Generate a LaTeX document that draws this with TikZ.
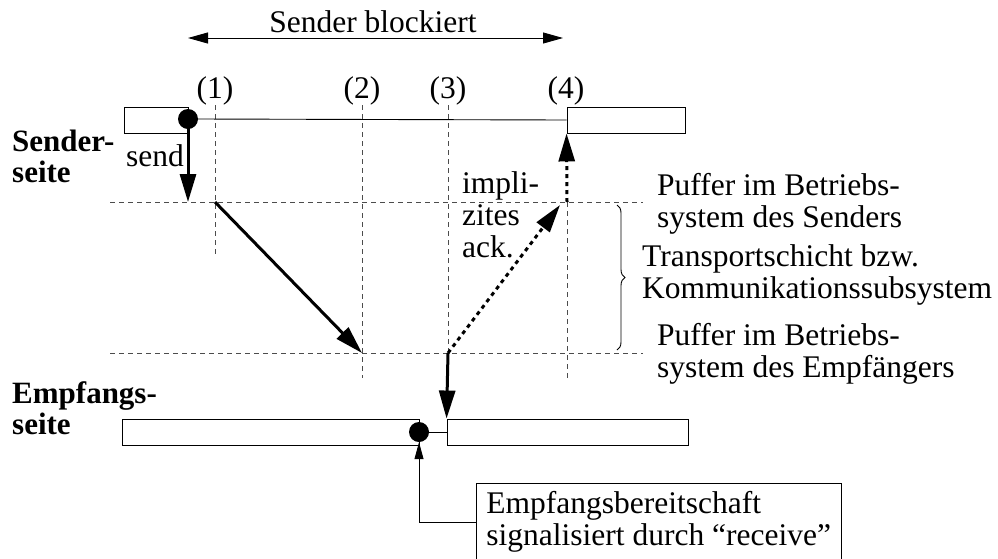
\documentclass[tikz,border=0pt]{standalone}
\usepackage{fontspec}
\setmainfont{Liberation Serif}
\usetikzlibrary{arrows.meta,decorations.pathreplacing}

\begin{document}
\begin{tikzpicture}[x=1pt, y=-1pt,
    txt/.style={font=\fontsize{31.5}{32}\selectfont, inner sep=0pt, align=left},
    side/.style={txt, font=\fontsize{31}{31}\selectfont\bfseries},
    bar/.style={draw, line width=0.9pt, minimum height=26pt, inner sep=0pt},
    dot/.style={circle, fill, inner sep=0pt, minimum size=20pt},
    guide/.style={dash pattern=on 5pt off 4pt, line width=0.7pt, black!70},
    fine/.style={line width=0.9pt},
    msg/.style={line width=3pt, -{Triangle[length=28pt,width=16pt]}},
    ack/.style={msg, dash pattern=on 4pt off 4pt},
    callout/.style={fine, -{Triangle[length=17pt,width=9pt]}}]
    \useasboundingbox (0,0) rectangle (998,558);

    \coordinate (bl) at (188,38);
    \coordinate (br) at (563,38);
    \draw[fine, {Triangle[length=20pt,width=11pt]}-{Triangle[length=20pt,width=11pt]}] (bl) -- (br);
    \node[txt, anchor=base] (blk) at (373,32) {Sender blockiert};

    \foreach \x/\b [count=\i] in {215/256, 362/378, 448/353}{
        \node[txt, anchor=base] (n\i) at (\x,98) {(\i)};
        \draw[guide] (\x,105) -- (\x,\b);
    }
    \node[txt, anchor=base] (n4) at (566,98) {(4)};
    \draw[guide] (567,202) -- (567,378);
    \draw[guide] (110,202) -- (643,202);
    \draw[guide] (110,353) -- (643,353);

    \node[bar, minimum width=64pt] (sleft) at (156,120) {};
    \node[bar, minimum width=118pt] (sright) at (626,120) {};
    \node[dot] (sdot) at (188,119) {};
    \draw[fine] (sdot.east) -- (sright.west);

    \node[bar, minimum width=297pt] (rleft) at (270.5,432) {};
    \node[bar, minimum width=241pt] (rright) at (567.5,432) {};
    \node[dot] (rdot) at (419,432) {};
    \draw[fine] (rdot.east) -- (rright.west);

    \coordinate (sbuf) at (188,202);
    \coordinate (p1) at (215,202);
    \coordinate (p2) at (362,353);
    \coordinate (p3) at (448,353);
    \coordinate (p4) at (567,202);
    \coordinate (ackend) at (560,205);
    \draw[msg] (sdot.center) -- (sbuf);
    \draw[msg] (p1) -- (p2);
    \draw[ack] (p3) -- (ackend);
    \draw[ack] (p4) -- (sright.south west);
    \draw[msg] (p3) -- (rright.north west);

    \node[txt, anchor=base east] (sendlbl) at (184,166) {send};
    \node[txt, anchor=base west] (acklbl) at (462,257) {impli-\\zites\\ack.};
    \node[side, anchor=base west] (sside) at (12,182) {Sender-\\seite};
    \node[side, anchor=base west] (rside) at (12,434) {Empfangs-\\seite};

    \node[txt, anchor=base west] (sendbuf) at (657,227) {Puffer im Betriebs-\\system des Senders};
    \node[txt, anchor=base west] (trans) at (642,298) {Transportschicht bzw.\\Kommunikationssubsystem};
    \node[txt, anchor=base west] (recvbuf) at (657,377) {Puffer im Betriebs-\\system des Empfängers};
    \draw[fine, decorate, decoration={brace, amplitude=8pt}] (617,205) -- (617,350);

    \node[draw, fine, txt, anchor=north west, inner xsep=10pt, inner ysep=8pt] (note) at (476,483) {Empfangsbereitschaft\\signalisiert durch “receive”};
    \coordinate (bend) at (419,522);
    \draw[callout] (note.west |- bend) -- (bend) -- (rdot.south);
\end{tikzpicture}
\end{document}
